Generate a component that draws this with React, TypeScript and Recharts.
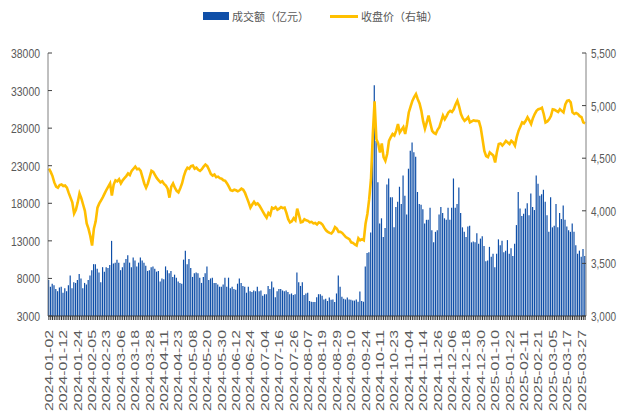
import { ComposedChart, Bar, Line, XAxis, YAxis } from 'recharts'

// trading days per month (A-share calendar)
const tradingDays: [string, number[]][] = [
  ['2024-01', [2, 3, 4, 5, 8, 9, 10, 11, 12, 15, 16, 17, 18, 19, 22, 23, 24, 25, 26, 29, 30, 31]],
  ['2024-02', [1, 2, 5, 6, 7, 8, 19, 20, 21, 22, 23, 26, 27, 28, 29]],
  ['2024-03', [1, 4, 5, 6, 7, 8, 11, 12, 13, 14, 15, 18, 19, 20, 21, 22, 25, 26, 27, 28, 29]],
  ['2024-04', [1, 2, 3, 8, 9, 10, 11, 12, 15, 16, 17, 18, 19, 22, 23, 24, 25, 26, 29, 30]],
  ['2024-05', [6, 7, 8, 9, 10, 13, 14, 15, 16, 17, 20, 21, 22, 23, 24, 27, 28, 29, 30, 31]],
  ['2024-06', [3, 4, 5, 6, 7, 11, 12, 13, 14, 17, 18, 19, 20, 21, 24, 25, 26, 27, 28]],
  ['2024-07', [1, 2, 3, 4, 5, 8, 9, 10, 11, 12, 15, 16, 17, 18, 19, 22, 23, 24, 25, 26, 29, 30, 31]],
  ['2024-08', [1, 2, 5, 6, 7, 8, 9, 12, 13, 14, 15, 16, 19, 20, 21, 22, 23, 26, 27, 28, 29, 30]],
  ['2024-09', [2, 3, 4, 5, 6, 9, 10, 11, 12, 13, 18, 19, 20, 23, 24, 25, 26, 27, 30]],
  ['2024-10', [8, 9, 10, 11, 14, 15, 16, 17, 18, 21, 22, 23, 24, 25, 28, 29, 30, 31]],
  ['2024-11', [1, 4, 5, 6, 7, 8, 11, 12, 13, 14, 15, 18, 19, 20, 21, 22, 25, 26, 27, 28, 29]],
  ['2024-12', [2, 3, 4, 5, 6, 9, 10, 11, 12, 13, 16, 17, 18, 19, 20, 23, 24, 25, 26, 27, 30, 31]],
  ['2025-01', [2, 3, 6, 7, 8, 9, 10, 13, 14, 15, 16, 17, 20, 21, 22, 23, 24, 27]],
  ['2025-02', [5, 6, 7, 10, 11, 12, 13, 14, 17, 18, 19, 20, 21, 24, 25, 26, 27, 28]],
  ['2025-03', [3, 4, 5, 6, 7, 10, 11, 12, 13, 14, 17, 18, 19, 20, 21, 24, 25, 26, 27, 28, 31]],
]

// 成交额（亿元）
const turnover = [
  7800, 6900, 7300, 7100, 6600, 6300, 6800, 6900, 6100, 6700,
  6300, 7100, 8400, 6700, 7500, 7400, 7800, 8600, 8000, 6700,
  7400, 7200, 7800, 8400, 9100, 9900, 9900, 9300, 8800, 7500,
  9500, 8900, 9500, 9400, 9800, 13000, 10000, 10100, 10500, 10100,
  9100, 9500, 10100, 10600, 11100, 10100, 9500, 10800, 10400, 9600,
  10100, 10800, 10400, 10100, 9700, 9000, 9100, 9500, 9600, 9300,
  8900, 9000, 7600, 8000, 7900, 9600, 9100, 8700, 9000, 8200,
  8500, 8100, 7600, 7400, 7300, 10500, 11700, 9900, 10600, 9400,
  8200, 8700, 8800, 8700, 8100, 7400, 8200, 8700, 9600, 7800,
  8000, 8100, 7400, 7400, 7200, 6900, 6900, 7200, 8100, 6900,
  8100, 6700, 6900, 6600, 6500, 7300, 8000, 7400, 7000, 6900,
  6100, 6900, 6300, 6200, 6400, 6300, 6900, 6300, 6400, 5700,
  5900, 5900, 7000, 6600, 7600, 6800, 5500, 6300, 6600, 6600,
  6400, 6300, 6400, 6200, 5900, 6000, 5800, 5900, 8800, 7500,
  7000, 7500, 5800, 6000, 6100, 5000, 4900, 4850, 4850, 5500,
  5900, 5900, 5700, 5200, 5300, 5000, 5450, 5150, 5200, 4850,
  6000, 8400, 6900, 5550, 5300, 5200, 5450, 5200, 5150, 5050,
  5050, 5200, 4900, 6250, 5000, 4900, 9600, 11400, 11500, 14100,
  25900, 33700, 26300, 20800, 15300, 16000, 13500, 14700, 20500, 21300,
  18800, 18800, 14800, 17500, 18200, 20200, 17900, 21700, 19000, 16500,
  22600, 25000, 26100, 24800, 24200, 19500, 17900, 17800, 17200, 15300,
  15800, 15800, 17400, 14400, 12800, 14200, 14400, 16500, 17500, 16700,
  16000, 15800, 17400, 15800, 17400, 21300, 17400, 17900, 20100, 16700,
  14800, 14200, 13500, 14900, 15000, 12800, 12900, 12800, 14000, 12600,
  13300, 13600, 12300, 10300, 10400, 12200, 10900, 11300, 9500, 11300,
  13200, 12400, 13000, 11500, 11700, 13100, 11300, 12000, 11000, 12600,
  15100, 19500, 17300, 16300, 16600, 17300, 18000, 16400, 19300, 17500,
  17100, 21700, 20600, 19000, 19200, 19800, 18200, 16400, 14200, 18800,
  14800, 15000, 17900, 14800, 16700, 15900, 17700, 15800, 14900, 14400,
  14200, 15300, 14200, 12400, 11300, 11700, 10900, 11900, 11000,
]

// 收盘价（右轴）
const closePrice = [
  4400, 4370, 4330, 4270, 4230, 4220, 4245, 4250, 4235, 4240,
  4220, 4170, 4125, 4080, 3975, 4010, 4080, 4165, 4120, 4060,
  4000, 3880, 3830, 3760, 3670, 3830, 3900, 4030, 4070, 4100,
  4130, 4165, 4200, 4230, 4260, 4145, 4250, 4290, 4280, 4300,
  4260, 4290, 4310, 4330, 4355, 4340, 4380, 4400, 4420, 4395,
  4400, 4380, 4320, 4260, 4220, 4260, 4320, 4380, 4370, 4340,
  4310, 4290, 4270, 4280, 4255, 4240, 4210, 4125, 4230, 4260,
  4220, 4190, 4175, 4215, 4260, 4330, 4380, 4410, 4400, 4425,
  4430, 4400, 4410, 4390, 4380, 4395, 4420, 4440, 4425, 4390,
  4350, 4335, 4345, 4320, 4325, 4310, 4305, 4290, 4285, 4260,
  4230, 4195, 4190, 4200, 4195, 4185, 4195, 4210, 4200, 4170,
  4125, 4080, 4030, 4060, 4085, 4060, 4070, 4050, 4020, 3990,
  3960, 3935, 3980, 3960, 4030, 4020, 4035, 4010, 4020, 4035,
  4025, 4030, 3980, 3920, 3890, 3900, 3930, 3910, 4020, 3960,
  3890, 3895, 3920, 3910, 3905, 3890, 3895, 3880, 3885, 3870,
  3890, 3885, 3870, 3840, 3815, 3800, 3790, 3785, 3805, 3845,
  3830, 3800, 3800, 3790, 3770, 3750, 3740, 3730, 3700, 3695,
  3680, 3670, 3740, 3720, 3730, 3720, 3880, 3970, 4110, 4300,
  4720, 5040, 4680, 4640, 4555, 4640, 4510, 4475, 4540, 4665,
  4700, 4730, 4715, 4760, 4825, 4745, 4770, 4795, 4730, 4820,
  4935, 4990, 5045, 5080, 5110, 5060, 5020, 4950, 4850, 4780,
  4840, 4905, 4830, 4760, 4740, 4730, 4770, 4795, 4850, 4905,
  4870, 4900, 4935, 4950, 4940, 4965, 5010, 5045, 4990, 4920,
  4880, 4855, 4870, 4890, 4840, 4850, 4860, 4855, 4855, 4850,
  4790, 4680, 4570, 4520, 4510, 4555, 4540, 4525, 4460, 4560,
  4635, 4640, 4620, 4640, 4665, 4650, 4635, 4665, 4650, 4620,
  4700, 4760, 4800, 4840, 4830, 4855, 4890, 4860, 4825, 4880,
  4920, 4950, 4965, 4970, 4980, 4920, 4840, 4850, 4870, 4900,
  4965, 4960, 4950, 4940, 4965, 4950, 4935, 5010, 5045, 5050,
  5030, 4935, 4920, 4930, 4920, 4900, 4890, 4840, 4830,
]

const leftTicks = [3000, 8000, 13000, 18000, 23000, 28000, 33000, 38000]
const rightTicks = [3000, 3500, 4000, 4500, 5000, 5500]

const dates = tradingDays.flatMap(([m, days]) => days.map((d) => `${m}-${String(d).padStart(2, '0')}`))
const data = dates.map((date, i) => ({ date, turnover: turnover[i], close: closePrice[i] }))

const GREY = '#595959'
const FONT = 'Liberation Sans, Arial, sans-serif'

const XTick = (props: any) => {
  const { x, y, payload, index } = props
  const i = payload?.index ?? index
  return (
    <g>
      <line x1={x} x2={x} y1={y - 14} y2={y - 10} stroke="#333" />
      {i % 8 === 0 && (
        <text
          x={x}
          y={y}
          transform={`rotate(-90 ${x} ${y})`}
          textAnchor="end"
          dominantBaseline="central"
          fontSize={10.5}
          fontFamily={FONT}
          fill={GREY}
          textLength={81}
          lengthAdjust="spacingAndGlyphs"
        >
          {payload.value}
        </text>
      )}
    </g>
  )
}

const LeftTick = ({ x, y, payload }: any) => {
  const s = String(payload.value)
  return (
    <g>
      <line x1={x + 8} x2={x + 12} y1={y} y2={y} stroke="#404040" />
      <text x={x} y={y + 5} textAnchor="end" fontSize={12.5} fontFamily={FONT} fill={GREY}
        textLength={s.length * 5.8} lengthAdjust="spacingAndGlyphs">
        {s}
      </text>
    </g>
  )
}

const RightTick = ({ x, y, payload }: any) => {
  const s = Number(payload.value).toLocaleString('en-US')
  return (
    <g>
      <line x1={x - 9} x2={x - 5} y1={y} y2={y} stroke="#404040" />
      <text x={x} y={y + 5} textAnchor="start" fontSize={12.5} fontFamily={FONT} fill={GREY}
        textLength={25} lengthAdjust="spacingAndGlyphs">
        {s}
      </text>
    </g>
  )
}

const legendText = { position: 'absolute' as const, top: 7, fontSize: 11, lineHeight: '18px', color: GREY, fontFamily: 'Noto Sans CJK SC', whiteSpace: 'nowrap' as const }

export default function App() {
  return (
    <div style={{ position: 'absolute', left: 0, top: 0, width: 627, height: 420, background: '#fff' }}>
      <div style={{ position: 'absolute', left: 203, top: 12, width: 26, height: 8, background: '#0F4FA8' }} />
      <div style={{ ...legendText, left: 232 }}>成交额（亿元）</div>
      <div style={{ position: 'absolute', left: 330, top: 15, width: 28, height: 3, background: '#FFC000' }} />
      <div style={{ ...legendText, left: 361 }}>收盘价（右轴）</div>
      <ComposedChart width={627} height={420} data={data} margin={{ top: 53, right: 0, bottom: 0, left: 0 }}>
        <XAxis
          dataKey="date"
          interval={0}
          height={104}
          tickSize={0}
          tickMargin={14}
          tickLine={false}
          axisLine={{ stroke: '#333' }}
          tick={<XTick />}
        />
        <YAxis
          yAxisId="left"
          width={48}
          domain={[3000, 38000]}
          ticks={leftTicks}
          interval={0}
          tickSize={0}
          tickMargin={8}
          tickLine={false}
          axisLine={{ stroke: '#808080' }}
          tick={<LeftTick />}
        />
        <YAxis
          yAxisId="right"
          orientation="right"
          width={41}
          domain={[3000, 5500]}
          ticks={rightTicks}
          interval={0}
          tickSize={0}
          tickMargin={5}
          tickLine={false}
          axisLine={{ stroke: '#808080' }}
          tick={<RightTick />}
        />
        <Bar yAxisId="left" dataKey="turnover" fill="#0F4FA8" barSize={1.2} isAnimationActive={false} />
        <Line
          yAxisId="right"
          type="linear"
          dataKey="close"
          stroke="#FFBE00"
          strokeWidth={2.6}
          dot={false}
          activeDot={false}
          isAnimationActive={false}
        />
      </ComposedChart>
    </div>
  )
}
